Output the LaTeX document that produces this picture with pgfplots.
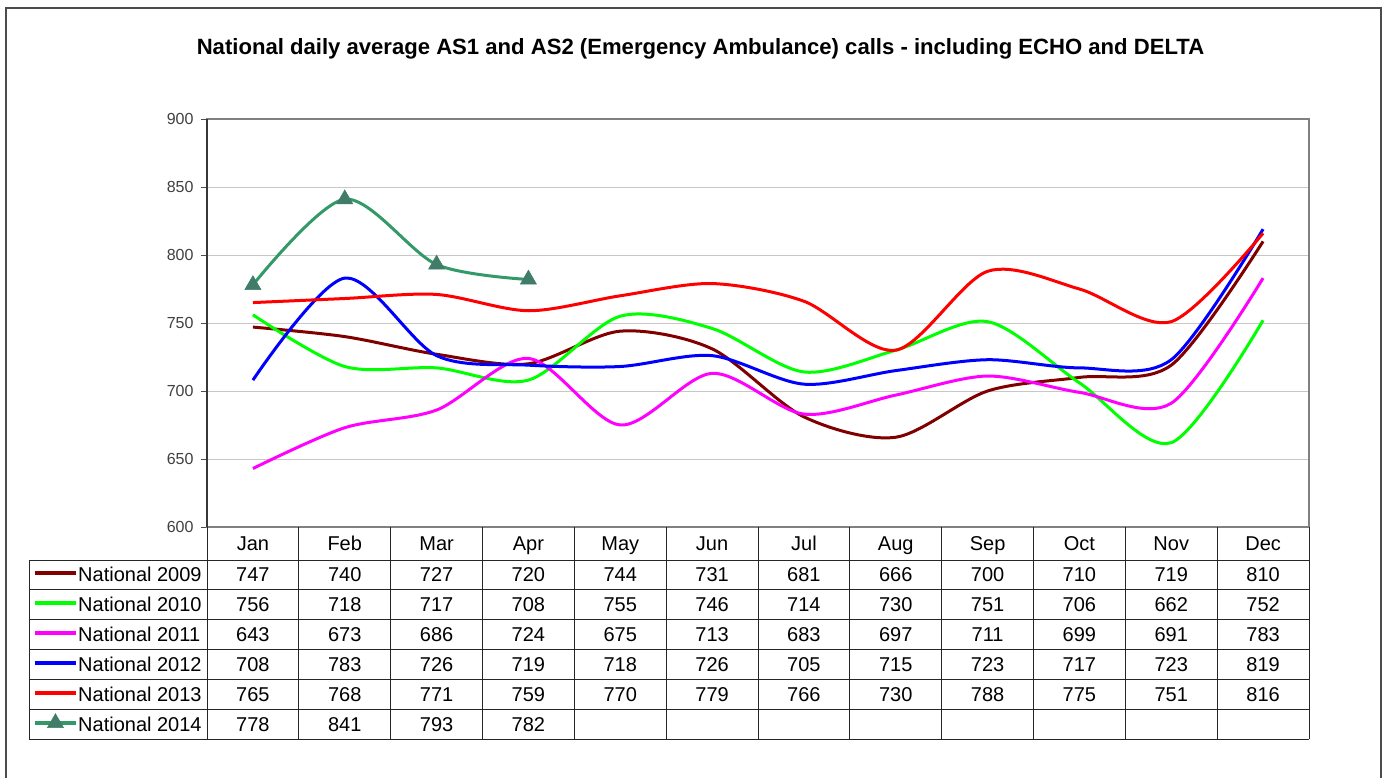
\documentclass[border=0pt]{standalone}
\usepackage{fontspec}
\setmainfont{Liberation Sans}
\usepackage{pgfplots}
\pgfplotsset{compat=1.18}
\usepackage{pgfplotstable}

\definecolor{c09}{RGB}{128,0,0}
\definecolor{c10}{RGB}{0,255,0}
\definecolor{c11}{RGB}{255,0,255}
\definecolor{c12}{RGB}{0,0,255}
\definecolor{c13}{RGB}{255,0,0}
\definecolor{c14}{RGB}{51,153,102}
\definecolor{c14m}{RGB}{64,124,104}

\pgfplotstableread{
x y2009 y2010 y2011 y2012 y2013
1 747 756 643 708 765
2 740 718 673 783 768
3 727 717 686 726 771
4 720 708 724 719 759
5 744 755 675 718 770
6 731 746 713 726 779
7 681 714 683 705 766
8 666 730 697 715 730
9 700 751 711 723 788
10 710 706 699 717 775
11 719 662 691 723 751
12 810 752 783 819 816
}\datamain

\pgfplotstableread{
x y2014
1 778
2 841
3 793
4 782
}\datafourteen

\newcommand{\tabfont}{\fontsize{20}{24}\selectfont}

\begin{document}
\begin{tikzpicture}[x=1pt,y=1pt]
\useasboundingbox (0,0) rectangle (1386,778);
\draw[black!70, line width=1.6pt] (6,-2) -- (6,770) -- (1381,770) -- (1381,-2);
\node[font=\fontsize{22.1}{26}\selectfont\bfseries, anchor=base, inner sep=0pt] at (700.5,723) {National daily average AS1 and AS2 (Emergency Ambulance) calls - including ECHO and DELTA};

% main chart
\begin{axis}[
  at={(207pt,251pt)}, anchor=south west,
  scale only axis, width=1102pt, height=408pt,
  xmin=0.5, xmax=12.5, ymin=600, ymax=900,
  xtick=\empty,
  ytick={600,650,...,900},
  ytick pos=left,
  tick align=outside,
  major tick length=6pt,
  ytick style={black!70, line width=0.9pt},
  axis line style={black!50, line width=1.1pt},
  ymajorgrids,
  grid style={black!22, line width=0.9pt},
  /pgf/number format/assume math mode=true,
  yticklabel style={font=\fontsize{16}{18}\selectfont, text=black!75, xshift=-4pt},
  clip=false,
]
\addplot[c09, line width=3pt, smooth] table[x=x, y=y2009] \datamain;
\addplot[c10, line width=3pt, smooth] table[x=x, y=y2010] \datamain;
\addplot[c11, line width=3pt, smooth] table[x=x, y=y2011] \datamain;
\addplot[c12, line width=3pt, smooth] table[x=x, y=y2012] \datamain;
\addplot[c13, line width=3pt, smooth] table[x=x, y=y2013] \datamain;
\addplot[c14, line width=3pt, smooth, mark=triangle*, mark size=9.3pt,
  mark options={fill=c14m, draw=c14m, line width=0.5pt}] table[x=x, y=y2014] \datafourteen;
\draw[black!78, line width=1.4pt] (rel axis cs:0,0) -- (rel axis cs:0,1);
\end{axis}

% data table (y in pixel rows, downwards)
\begin{axis}[
  at={(207pt,39pt)}, anchor=south west,
  scale only axis, width=1102pt, height=212pt,
  xmin=0.5, xmax=12.5, ymin=527, ymax=739, y dir=reverse,
  hide axis, clip=false,
  nodes near coords style={anchor=base, font=\tabfont, text=black, inner sep=0pt},
]
\addplot[draw=none, nodes near coords, point meta=explicit symbolic] table[x=x, y expr=582, meta=y2009] \datamain;
\addplot[draw=none, nodes near coords, point meta=explicit symbolic] table[x=x, y expr=611.6, meta=y2010] \datamain;
\addplot[draw=none, nodes near coords, point meta=explicit symbolic] table[x=x, y expr=641.4, meta=y2011] \datamain;
\addplot[draw=none, nodes near coords, point meta=explicit symbolic] table[x=x, y expr=671.2, meta=y2012] \datamain;
\addplot[draw=none, nodes near coords, point meta=explicit symbolic] table[x=x, y expr=701.2, meta=y2013] \datamain;
\addplot[draw=none, nodes near coords, point meta=explicit symbolic] table[x=x, y expr=731.2, meta=y2014] \datafourteen;
% legend keys
\addplot[c09, line width=4pt] coordinates {(-1.373,573.5) (-0.9265,573.5)};
\addplot[c10, line width=4pt] coordinates {(-1.373,603.5) (-0.9265,603.5)};
\addplot[c11, line width=4pt] coordinates {(-1.373,633.5) (-0.9265,633.5)};
\addplot[c12, line width=4pt] coordinates {(-1.373,663.3) (-0.9265,663.3)};
\addplot[c13, line width=4pt] coordinates {(-1.373,693) (-0.9265,693)};
\addplot[c14, line width=4pt, mark=triangle*, mark indices={2}, mark size=9.3pt,
  mark options={fill=c14m, draw=c14m, line width=0.5pt}] coordinates {(-1.373,723) (-1.15,723) (-0.9265,723)};
\end{axis}

% table grid
\foreach \k in {0,...,12} {
  \draw[black!85, line width=0.9pt] ({207+91.8333*\k},251) -- ({207+91.8333*\k},39);
}
\draw[black!85, line width=0.9pt] (29,218) -- (29,39);
\foreach \r in {560,589.5,619.3,649,679,709,739} {
  \draw[black!85, line width=0.9pt] (29,{778-\r}) -- (1309,{778-\r});
}
% month headers
\foreach \m [count=\i] in {Jan,Feb,Mar,Apr,May,Jun,Jul,Aug,Sep,Oct,Nov,Dec} {
  \node[font=\tabfont, anchor=base, inner sep=0pt] at ({207+91.8333*(\i-0.5)},{778-550.7}) {\m};
}
% legend labels
\foreach \yy [count=\i from 2009] in {582,611.6,641.4,671.2,701.2,731.2} {
  \node[font=\tabfont, anchor=base west, inner sep=0pt] at (78,{778-\yy}) {National \i};
}
\end{tikzpicture}
\end{document}
